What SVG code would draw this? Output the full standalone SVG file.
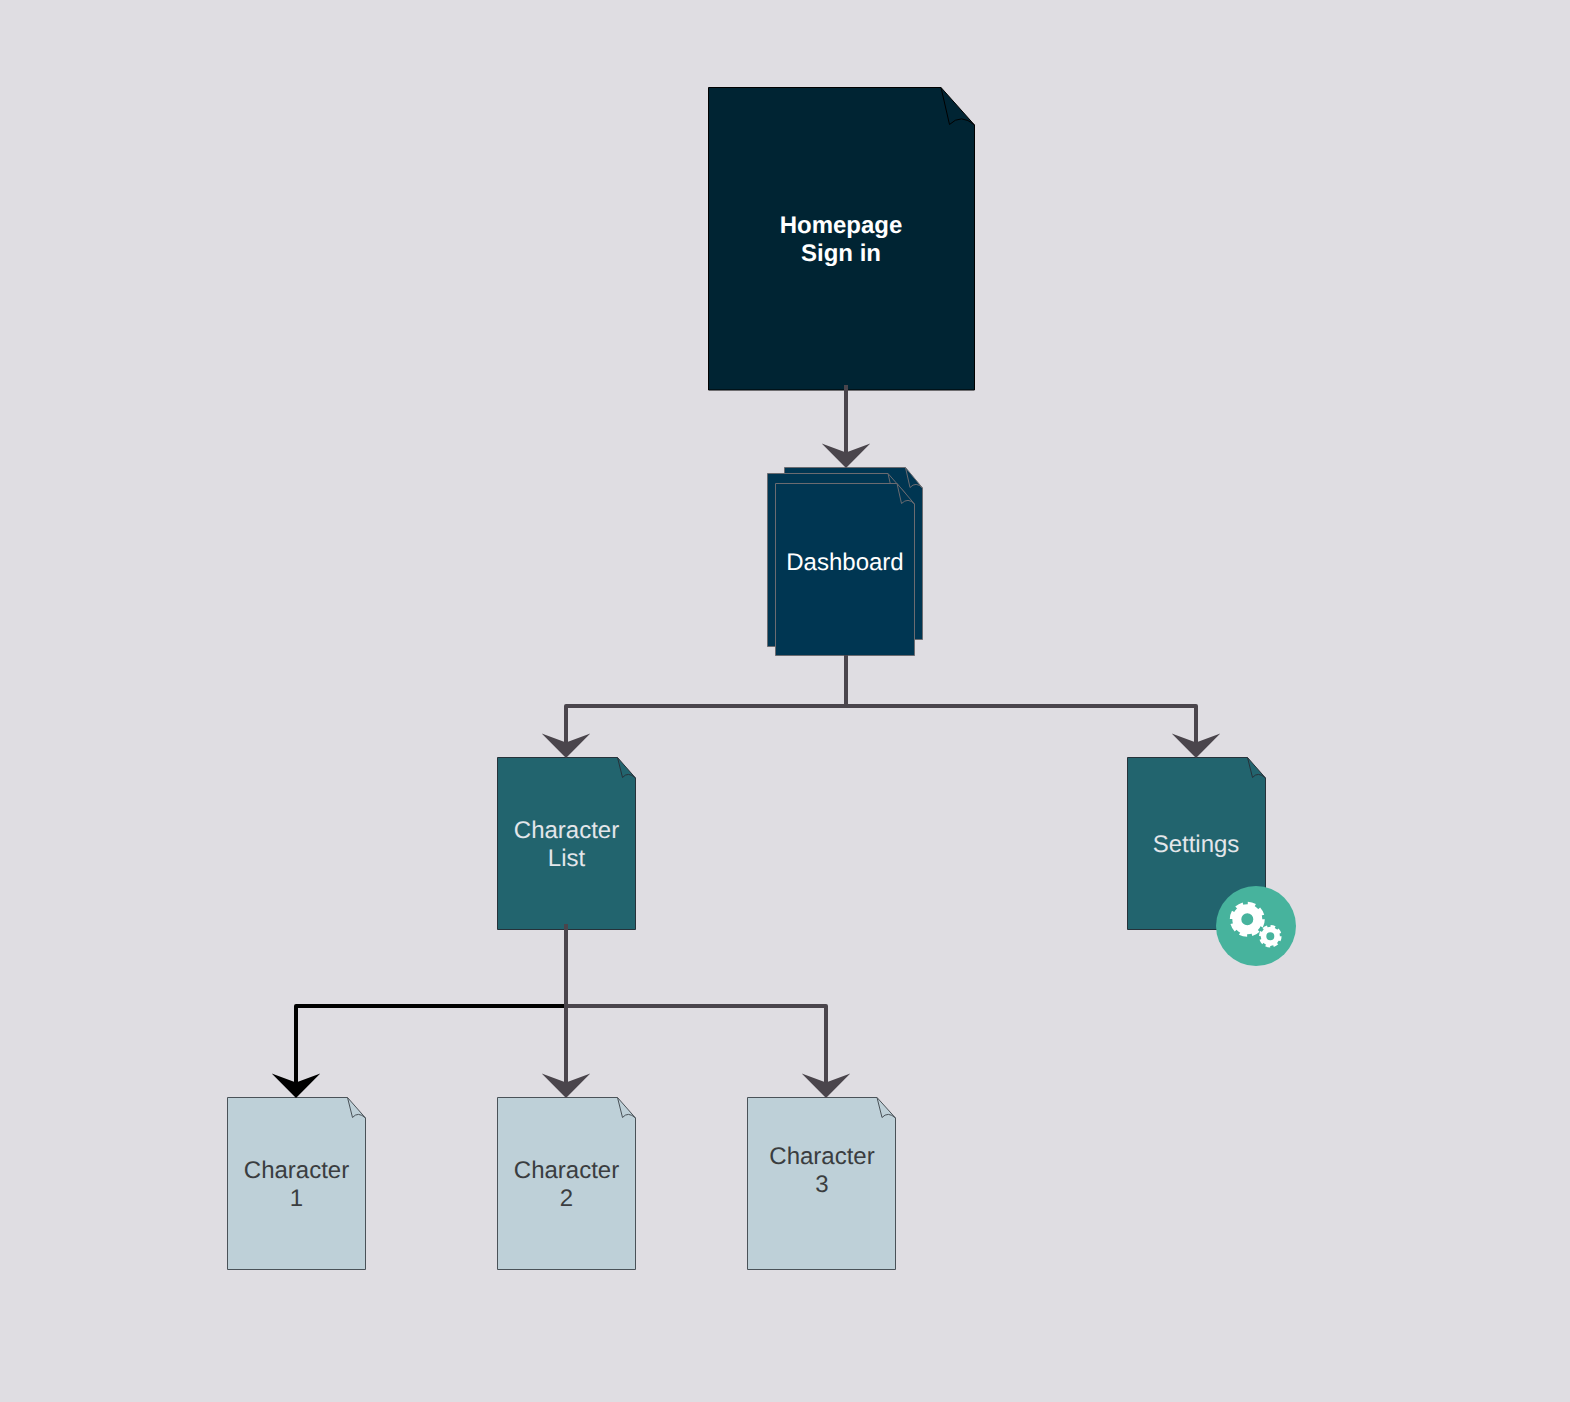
<svg xmlns="http://www.w3.org/2000/svg" width="1570" height="1402" viewBox="0 0 1570 1402">
<style>
text{font-family:"Liberation Sans",Arial,sans-serif;font-size:24px;text-anchor:middle;text-rendering:geometricPrecision}
.con{fill:none;stroke:#4a454c;stroke-width:4;stroke-linejoin:round}
.blk{stroke:#000}
.pg{stroke-width:1}
.fold{fill:none;stroke-width:1}
.navy{fill:#002433;stroke:#000}
.blue{fill:#003652;stroke:#6b6b70}
.teal{fill:#22646e;stroke:#26323a}
.pale{fill:#bed0d8;stroke:#4a5258}
.tw{fill:#fff}.tl{fill:#e3e6ea}.td{fill:#3a3d40}
.gear{fill:none;stroke:#fff}
</style>
<defs>
<path id="head" d="M-24.300 -24.500L0 0L24.300 -24.500L0 -15.500Z"/>
</defs>
<rect width="1570" height="1402" fill="#dfdde2"/>
<g id="homepage">
<path class="pg navy" d="M708.500 87.500H941L974.500 125V390H708.500Z"/>
<path class="fold" stroke="#000" d="M941 87.500L949.500 124.500Q961 113 974.500 125"/>
<text class="tw" font-weight="700" x="841" y="232.500">Homepage</text>
<text class="tw" font-weight="700" x="841" y="260.500">Sign in</text>
</g>
<g id="dashboard">
<path class="pg blue" d="M784.500 467.500H905.500L922.500 488V639.500H784.500Z"/>
<path class="fold" stroke="#6b6b70" d="M905.500 467.500L910 487.500Q916 481 922.500 488"/>
<path class="pg blue" d="M767.500 473.500H888L906 494V646.500H767.500Z"/>
<path class="fold" stroke="#6b6b70" d="M888 473.500L892.500 493.500Q899 487 906 494"/>
<path class="pg blue" d="M775.500 483.500H897L914.500 504V655.500H775.500Z"/>
<path class="fold" stroke="#6b6b70" d="M897 483.500L901.500 503.500Q908 497 914.500 504"/>
<text class="tw" x="845" y="569.500">Dashboard</text>
</g>
<g id="character-list">
<path class="pg teal" d="M497.500 757.500H617.500L635.500 778V929.500H497.500Z"/>
<path class="fold" stroke="#26323a" d="M617.500 757.500L622.500 777.500Q628 771 635.500 778"/>
<text class="tl" x="566.500" y="838">Character</text>
<text class="tl" x="566.500" y="866">List</text>
</g>
<g id="settings">
<path class="pg teal" d="M1127.500 757.500H1247.500L1265.500 778V929.500H1127.500Z"/>
<path class="fold" stroke="#26323a" d="M1247.500 757.500L1252.500 777.500Q1258 771 1265.500 778"/>
<text class="tl" x="1196" y="852">Settings</text>
<circle cx="1256" cy="926" r="40" fill="#47b39d"/>
<circle class="gear" cx="1247.300" cy="919.300" r="10.500" stroke-width="9"/>
<circle class="gear" cx="1247.300" cy="919.300" r="15.500" stroke-width="4" stroke-dasharray="7.500 4.675"/>
<circle class="gear" cx="1270.300" cy="936.300" r="6.800" stroke-width="5.600"/>
<circle class="gear" cx="1270.300" cy="936.300" r="10" stroke-width="2.600" stroke-dasharray="4.600 3.250"/>
</g>
<g id="character-1">
<path class="pg pale" d="M227.500 1097.500H347.500L365.500 1118V1269.500H227.500Z"/>
<path class="fold" stroke="#4a5258" d="M347.500 1097.500L352.500 1117.500Q358 1111 365.500 1118"/>
<text class="td" x="296.500" y="1178">Character</text>
<text class="td" x="296.500" y="1206">1</text>
</g>
<g id="character-2">
<path class="pg pale" d="M497.500 1097.500H617.500L635.500 1118V1269.500H497.500Z"/>
<path class="fold" stroke="#4a5258" d="M617.500 1097.500L622.500 1117.500Q628 1111 635.500 1118"/>
<text class="td" x="566.500" y="1178">Character</text>
<text class="td" x="566.500" y="1206">2</text>
</g>
<g id="character-3">
<path class="pg pale" d="M747.500 1097.500H877L895.500 1118V1269.500H747.500Z"/>
<path class="fold" stroke="#4a5258" d="M877 1097.500L882 1117.500Q888 1111 895.500 1118"/>
<text class="td" x="822" y="1164">Character</text>
<text class="td" x="822" y="1192">3</text>
</g>
<g id="connectors">
<path class="con" d="M846 385V460"/>
<path class="con" d="M846 655V706H566V750"/>
<path class="con" d="M846 706H1196V750"/>
<path class="con" d="M566 1006H826V1090"/>
<path class="con" d="M566 924V1090"/>
<path class="con blk" d="M564 1006H296V1090"/>
<use href="#head" x="846" y="468" fill="#4a454c"/>
<use href="#head" x="566" y="758" fill="#4a454c"/>
<use href="#head" x="1196" y="758" fill="#4a454c"/>
<use href="#head" x="296" y="1098" fill="#000"/>
<use href="#head" x="566" y="1098" fill="#4a454c"/>
<use href="#head" x="826" y="1098" fill="#4a454c"/>
</g>
</svg>
